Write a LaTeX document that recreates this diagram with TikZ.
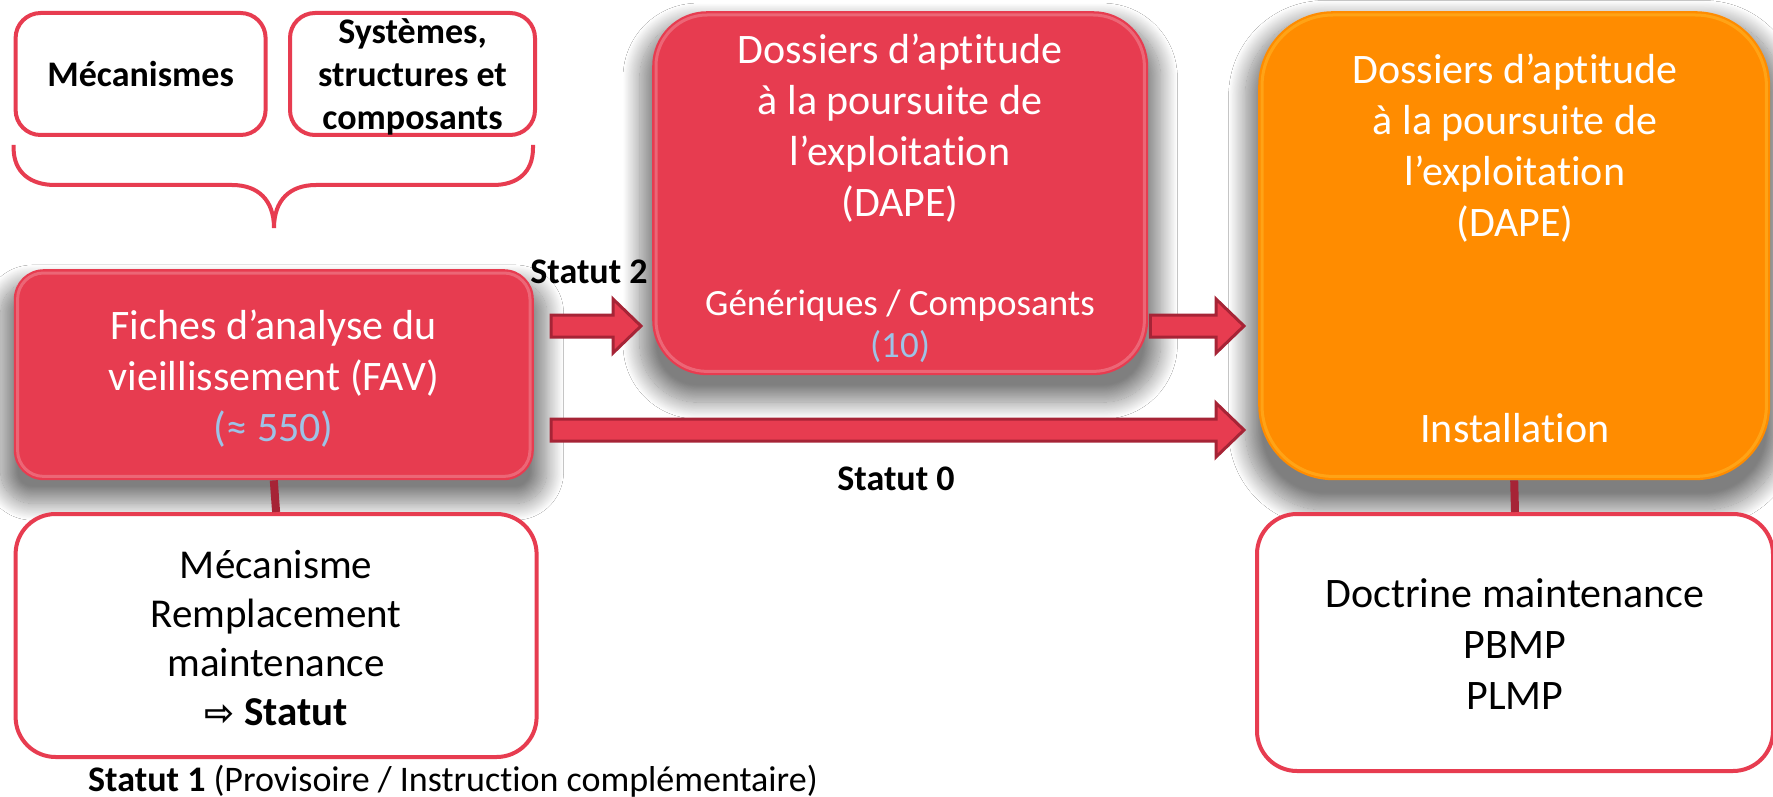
\documentclass[tikz,border=0pt]{standalone}
\usepackage{fontspec}
\setmainfont{Carlito}[Ligatures=NoCommon]
\newfontfamily\dejavu{DejaVu Sans}
\usetikzlibrary{calc,shadows.blur}
\definecolor{boxred}{RGB}{231,60,80}
\definecolor{darkred}{RGB}{166,36,54}
\definecolor{orng}{RGB}{255,140,0}
\definecolor{lblue}{RGB}{157,195,230}
\newcommand{\blockarr}[2]{%
  \path[blockarrow] let \p1=(#1), \p2=(#2) in
    (\x1,\y1+11pt) -- (\x2-28pt,\y1+11pt) -- (\x2-28pt,\y1+27pt) -- (\x2,\y1)
    -- (\x2-28pt,\y1-27pt) -- (\x2-28pt,\y1-11pt) -- (\x1,\y1-11pt) -- cycle;}
\newcommand{\gloss}[3]{% node, radius, colour
  \draw[#3, opacity=0.22, line width=3pt, rounded corners=#2]
    ($(#1.north west)+(4,4)$) rectangle ($(#1.south east)+(-4,-4)$);}
\begin{document}
\begin{tikzpicture}[x=1pt,y=-1pt,
  shade3d/.style={blur shadow={shadow xshift=0pt,shadow yshift=-17pt,shadow scale=1.05,shadow blur radius=16pt,shadow blur steps=24,shadow opacity=50}},
  redbox/.style={fill=boxred, shade3d, inner sep=0pt, anchor=north west},
  orbox/.style={fill=orng, shade3d, inner sep=0pt, anchor=north west},
  whitebox/.style={draw=boxred, fill=white, line width=4pt, inner sep=0pt, anchor=north west},
  bigtxt/.style={font=\fontsize{42}{51}\selectfont, align=center, inner sep=0pt},
  midtxt/.style={font=\fontsize{41}{49}\selectfont, align=center, inner sep=0pt},
  gentxt/.style={font=\fontsize{37}{42}\selectfont, align=center, inner sep=0pt},
  boldtxt/.style={font=\fontsize{36}{43}\selectfont\bfseries, align=center, inner sep=0pt},
  labtxt/.style={font=\fontsize{36}{43}\selectfont, inner sep=0pt},
  conn/.style={draw=darkred, line width=8pt},
  blockarrow/.style={draw=darkred, fill=boxred, line width=3pt, line join=miter}
]
\fill[white] (0,0) rectangle (1773,797);
\useasboundingbox (0,0) rectangle (1773,797);

% top boxes
\node[whitebox, rounded corners=25pt, minimum width=250pt, minimum height=122pt] (mecs) at (13.6,11) {};
\node[boldtxt] at (mecs.center) {Mécanismes};
\node[whitebox, rounded corners=25pt, minimum width=245pt, minimum height=122pt] (sys) at (288,11) {};
\node[boldtxt] at ($(sys.center)+(0,3)$) {Systèmes,\\structures et\\composants};

% brace
\draw[boxred, line width=4pt]
  (13.6,145) -- (13.6,148) .. controls (13.6,172) and (30,185) .. (55,185)
  -- (232,185) .. controls (258,185) and (274,200) .. (274,228)
  .. controls (274,200) and (290,185) .. (316,185)
  -- (493,185) .. controls (518,185) and (533,172) .. (533,148) -- (533,145);

% red boxes
\node[redbox, rounded corners=30pt, minimum width=520pt, minimum height=211pt] (fav) at (13.6,269) {};
\gloss{fav}{26pt}{white}
\node[bigtxt, text=white] at ($(fav.center)+(0,4)$) {Fiches d’analyse du\\vieillissement (FAV)\\{\color{lblue}(≈ 550)}};

\node[redbox, rounded corners=55pt, minimum width=496pt, minimum height=364pt] (dape) at (652,11) {};
\gloss{dape}{51pt}{white}
\node[bigtxt, text=white] at (900,128) {Dossiers d’aptitude\\à la poursuite de\\l’exploitation\\(DAPE)};
\node[gentxt, text=white] at (900,326) {Génériques / Composants\\{\color{lblue}(10)}};

\node[orbox, rounded corners=75pt, minimum width=512pt, minimum height=469pt] (inst) at (1258,11) {};
\gloss{inst}{71pt}{yellow!60!white}
\node[bigtxt, text=white] at (1515,148) {Dossiers d’aptitude\\à la poursuite de\\l’exploitation\\(DAPE)};
\node[bigtxt, text=white] at (1515,428) {Installation};

% lower boxes
\node[whitebox, rounded corners=40pt, minimum width=521pt, minimum height=243pt] (mec) at (13.6,512) {};
\node[midtxt] at ($(mec.center)+(0,3)$) {Mécanisme\\Remplacement\\maintenance\\{\dejavu\bfseries\fontsize{36}{49}\selectfont ⇨} \textbf{Statut}};

\node[whitebox, rounded corners=40pt, minimum width=516pt, minimum height=257pt] (doc) at (1255,512) {};
\node[bigtxt] at ($(doc.center)+(0,2)$) {Doctrine maintenance\\PBMP\\PLMP};

% connectors
\draw[conn] (fav.south) -- (mec.north);
\draw[conn] (inst.south) -- (doc.north);

% block arrows
\path ($(fav.north east)+(17,57)$) coordinate (a2s);
\path (dape.west |- a2s) ++(-11,0) coordinate (a2e);
\path (dape.east |- a2s) ++(2,0) coordinate (a3s);
\path (inst.west |- a2s) ++(-14,0) coordinate (a3e);
\path ($(fav.north east)+(17,161)$) coordinate (a0s);
\path (inst.west |- a0s) ++(-14,0) coordinate (a0e);
\blockarr{a2s}{a2e}
\blockarr{a3s}{a3e}
\blockarr{a0s}{a0e}

% labels
\node[boldtxt] (s2) at (589,272) {Statut 2};
\node[boldtxt] (s0) at (896,479) {Statut 0};
\node[labtxt, anchor=west] (s1) at (88,781) {\textbf{Statut 1} (Provisoire / Instruction complémentaire)};
\end{tikzpicture}
\end{document}
